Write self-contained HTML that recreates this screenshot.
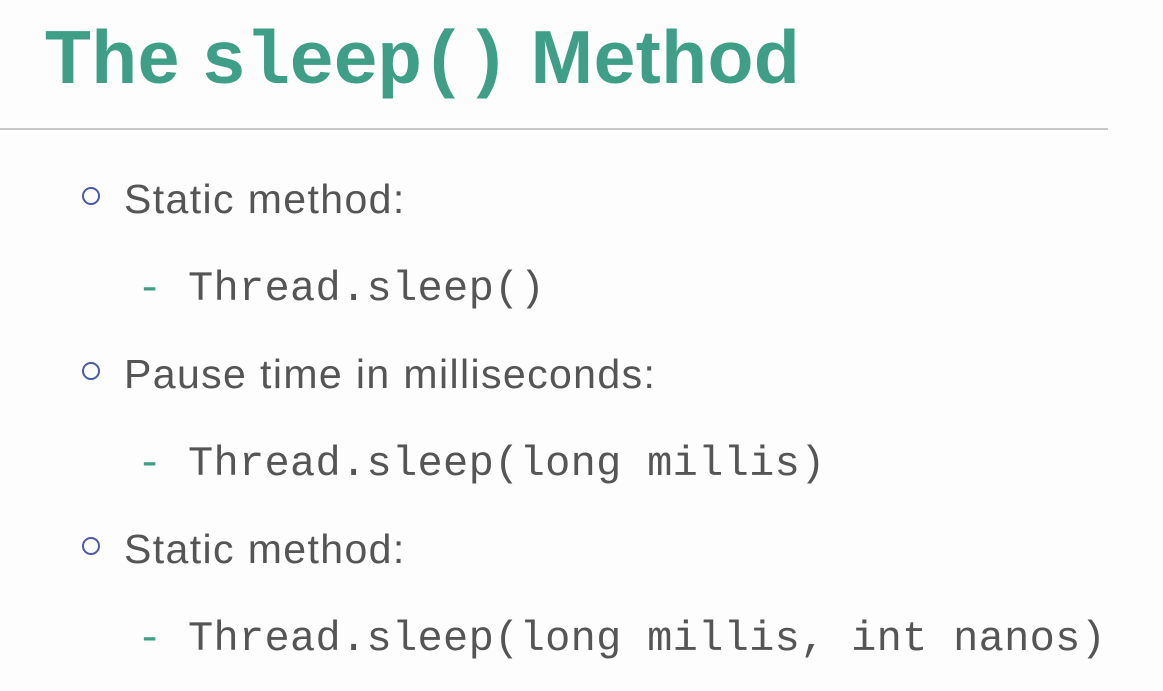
<!DOCTYPE html>
<html><head><meta charset="utf-8"><style>
html,body{margin:0;padding:0;background:#fdfdfd;}
body{width:1163px;height:691px;position:relative;overflow:hidden;}
.a{position:absolute;white-space:nowrap;line-height:1;}
.t{font-family:"Liberation Sans",sans-serif;font-weight:bold;font-size:75px;color:#3f9e86;top:20px;left:45px;letter-spacing:0.5px;}
.t .m{font-family:"Liberation Mono",monospace;font-size:75px;letter-spacing:-1px;}
.b{font-family:"Liberation Sans",sans-serif;font-size:41px;color:#555;left:124px;letter-spacing:1.4px;}
.c{font-family:"Liberation Mono",monospace;font-size:42px;color:#555;left:137px;letter-spacing:0.3px;}
.c span{color:#3f9e86;}
.o{position:absolute;left:82px;width:14px;height:14px;border:2px solid #4a5aa6;border-radius:50%;}
.hr{position:absolute;left:0;top:128px;width:1108px;height:2px;background:#c8c8c8;}
</style></head><body>
<div class="a t">The <span class="m">sleep()</span> Method</div>
<div class="hr"></div>
<div class="o" style="top:187px"></div>
<div class="a b" style="top:179px">Static method:</div>
<div class="a c" style="top:268px"><span>-</span> Thread.sleep()</div>
<div class="o" style="top:362px"></div>
<div class="a b" style="top:354px">Pause time in milliseconds:</div>
<div class="a c" style="top:443px"><span>-</span> Thread.sleep(long millis)</div>
<div class="o" style="top:537px"></div>
<div class="a b" style="top:529px">Static method:</div>
<div class="a c" style="top:618px"><span>-</span> Thread.sleep(long millis, int nanos)</div>
</body></html>
